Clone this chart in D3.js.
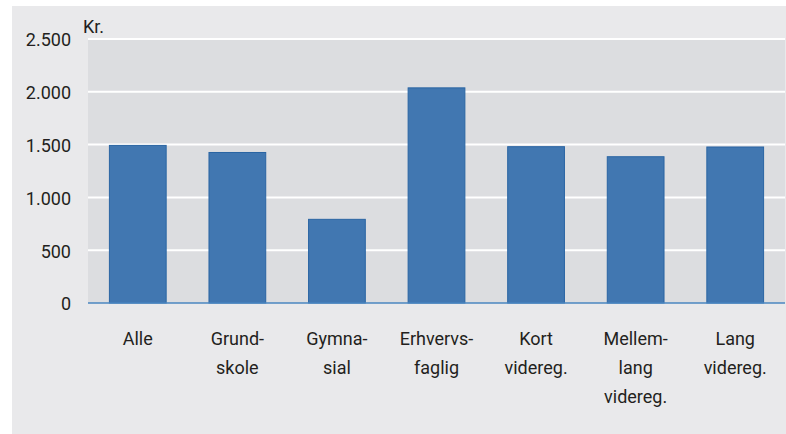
<!DOCTYPE html>
<html>
<head>
<meta charset="utf-8">
<script src="https://cdn.jsdelivr.net/npm/d3@7"></script>
<style>
  html, body { margin: 0; padding: 0; background: #ffffff; }
  svg { display: block; }
  text { font-family: Roboto, "Open Sans", sans-serif; fill: #231f20; }
</style>
</head>
<body>
<svg id="chart" width="786" height="434"></svg>
<script>
// Categories (multi-line labels) and values in kroner
const categories = ["Alle", "Grundskole", "Gymnasial", "Erhvervsfaglig", "Kort videreg.", "Mellemlang videreg.", "Lang videreg."];
const labelLines = [["Alle"], ["Grund-", "skole"], ["Gymna-", "sial"], ["Erhvervs-", "faglig"], ["Kort", "videreg."], ["Mellem-", "lang", "videreg."], ["Lang", "videreg."]];
const values = [1497, 1430, 797, 2042, 1485, 1390, 1482];
const yTicks = [0, 500, 1000, 1500, 2000, 2500];
const yTickLabels = ["0", "500", "1.000", "1.500", "2.000", "2.500"];

const FONT = "Roboto, \"Open Sans\", sans-serif";
const FS = 18;

const svg = d3.select("#chart");

// outer panel
svg.append("rect").attr("x", 12).attr("y", 6).attr("width", 774).attr("height", 428).attr("fill", "#e9e9eb");

const plot = { left: 88, right: 785, top: 39, bottom: 303 };

// plot area background
svg.append("rect")
  .attr("x", plot.left).attr("y", plot.top)
  .attr("width", plot.right - plot.left).attr("height", plot.bottom - plot.top)
  .attr("fill", "#dcdde0");

const x = d3.scaleBand().domain(categories).range([plot.left, plot.right]).paddingInner(0.42).paddingOuter(0.21);
const y = d3.scaleLinear().domain([0, 2500]).range([plot.bottom, plot.top]);

// gridlines
svg.append("g").selectAll("line").data(yTicks.filter(d => d > 0)).join("line")
  .attr("x1", plot.left).attr("x2", plot.right)
  .attr("y1", d => y(d)).attr("y2", d => y(d))
  .attr("stroke", "#ffffff").attr("stroke-width", 2);

// y axis labels
const yAxis = d3.axisLeft(y).tickValues(yTicks).tickSize(0).tickPadding(0)
  .tickFormat((d, i) => yTickLabels[i]);
const gy = svg.append("g").attr("transform", "translate(71,0)").call(yAxis);
gy.select(".domain").remove();
gy.selectAll("text").attr("font-size", FS).attr("font-family", FONT).attr("fill", "#231f20").attr("dy", "0.38em");

// unit label
svg.append("text").attr("x", 83).attr("y", 33).attr("font-size", FS).text("Kr.");

// bars
svg.append("g").selectAll("rect").data(values).join("rect")
  .attr("x", (d, i) => x(categories[i]) + 0.5)
  .attr("y", d => y(d) + 0.5)
  .attr("width", x.bandwidth() - 1)
  .attr("height", d => plot.bottom - y(d) - 0.5)
  .attr("fill", "#4177b1")
  .attr("stroke", "#2a65a3").attr("stroke-width", 1);

// baseline
svg.append("line").attr("x1", plot.left).attr("x2", plot.right)
  .attr("y1", plot.bottom).attr("y2", plot.bottom)
  .attr("stroke", "#4a86c0").attr("stroke-width", 1.5);

// category labels
const lab = svg.append("g").selectAll("text").data(categories).join("text")
  .attr("x", d => x(d) + x.bandwidth() / 2)
  .attr("y", 345)
  .attr("text-anchor", "middle")
  .attr("font-size", FS);
lab.each(function (d, i) {
  d3.select(this).selectAll("tspan").data(labelLines[i]).join("tspan")
    .attr("x", x(d) + x.bandwidth() / 2)
    .attr("dy", (t, j) => j === 0 ? 0 : 29)
    .text(t => t);
});
</script>
</body>
</html>
